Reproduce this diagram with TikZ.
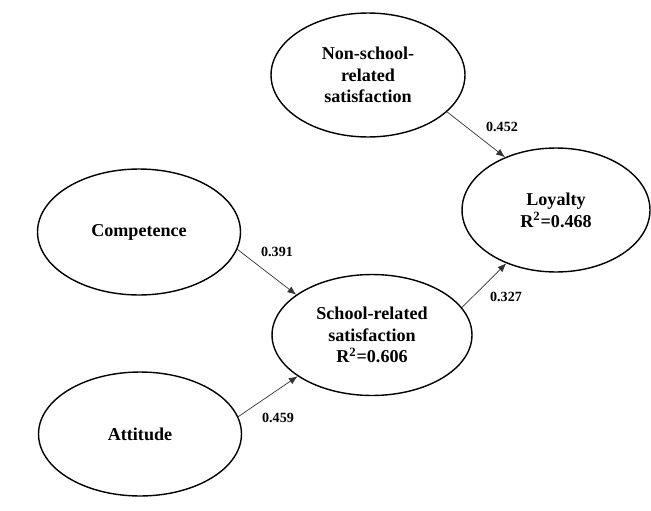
\documentclass[tikz,border=0pt]{standalone}
\usepackage{fontspec}
\setmainfont{Liberation Serif}
\usetikzlibrary{shapes.geometric,arrows.meta}
\tikzset{
  construct/.style = {
    ellipse, draw, line width=0.8pt, inner sep=0pt,
    align=center, font=\fontsize{10.3}{12.4}\selectfont\bfseries
  },
  path/.style = {
    -{Latex[length=5pt,width=4pt]}, line width=0.4pt, black!80
  },
  coef/.style = {
    font=\fontsize{8}{9}\selectfont\bfseries
  }
}

\begin{document}
\begin{tikzpicture}[x=0.02cm,y=-0.02cm]
  \useasboundingbox (0,0) rectangle (651,510);
  % constructs
  \node[construct,minimum width=3.88cm,minimum height=2.48cm] (nonschool) at (368,75) {Non-school-\\related\\satisfaction};
  \node[construct,minimum width=3.76cm,minimum height=2.48cm] (loyalty) at (556,210) {Loyalty\\R\textsuperscript{2}=0.468};
  \node[construct,minimum width=4.06cm,minimum height=2.52cm] (competence) at (139,232) {Competence};
  \node[construct,minimum width=4.0cm,minimum height=2.42cm] (school) at (372,335) {School-related\\satisfaction\\R\textsuperscript{2}=0.606};
  \node[construct,minimum width=4.06cm,minimum height=2.48cm] (attitude) at (140,434) {Attitude};
  % paths
  \draw[path] (nonschool.-25) -- (loyalty.134);
  \draw[path] (competence.-10) -- (school.152);
  \draw[path] (attitude.10) -- (school.-151);
  \draw[path] (school.17) -- (loyalty.-133);
  % coefficients
  \node[coef] (c1) at (502,127) {0.452};
  \node[coef] (c2) at (277,252) {0.391};
  \node[coef] (c3) at (278,418) {0.459};
  \node[coef] (c4) at (506,297) {0.327};
\end{tikzpicture}
\end{document}
